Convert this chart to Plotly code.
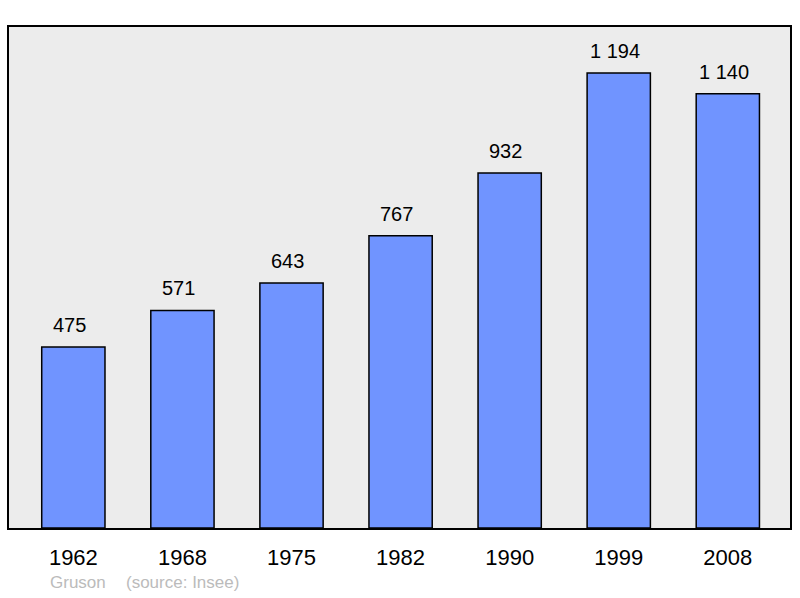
import plotly.graph_objects as go

years = ["1962", "1968", "1975", "1982", "1990", "1999", "2008"]
population = [475, 571, 643, 767, 932, 1194, 1140]
value_labels = ["475", "571", "643", "767", "932", "1 194", "1 140"]

fig = go.Figure()
fig.add_trace(go.Bar(
    x=years, y=population, width=0.58,
    marker=dict(color="#7094FF", line=dict(color="#000000", width=1.5)),
    hoverinfo="skip",
))

for i, (v, lab) in enumerate(zip(population, value_labels)):
    fig.add_annotation(x=i, y=v, xref="x", yref="y", text=lab, showarrow=False, yanchor="bottom",
                       yshift=9, xshift=-4,
                       font=dict(family="Liberation Sans, Arial", size=20, color="#000000"))

fig.add_annotation(xref="paper", yref="paper", x=(48-9)/783, y=-0.108, xanchor="left", yanchor="middle",
                   text="Gruson", showarrow=False,
                   font=dict(family="Liberation Sans, Arial", size=17, color="#BBBBBB"))
fig.add_annotation(xref="paper", yref="paper", x=(124-9)/783, y=-0.108, xanchor="left", yanchor="middle",
                   text="(source: Insee)", showarrow=False,
                   font=dict(family="Liberation Sans, Arial", size=17, color="#BBBBBB"))

fig.update_layout(
    width=800, height=598,
    margin=dict(l=9, r=8, t=27, b=70),
    paper_bgcolor="#FFFFFF", plot_bgcolor="#ECECEC",
    showlegend=False,
    font=dict(family="Liberation Sans, Arial", color="#000000"),
    xaxis=dict(type="category", range=[-0.59, 6.57], showline=True, mirror=True,
               linecolor="#000000", linewidth=2, ticks="outside", ticklen=9,
               tickcolor="rgba(0,0,0,0)", tickfont=dict(size=22, color="#000000"),
               showgrid=False, fixedrange=True),
    yaxis=dict(range=[0, 1315], showline=True, mirror=True, linecolor="#000000",
               linewidth=2, showticklabels=False, showgrid=False, zeroline=False,
               ticks="", fixedrange=True),
)

fig.write_html("out.html", config={"displayModeBar": False},
               post_script="document.body.style.margin='0';")
